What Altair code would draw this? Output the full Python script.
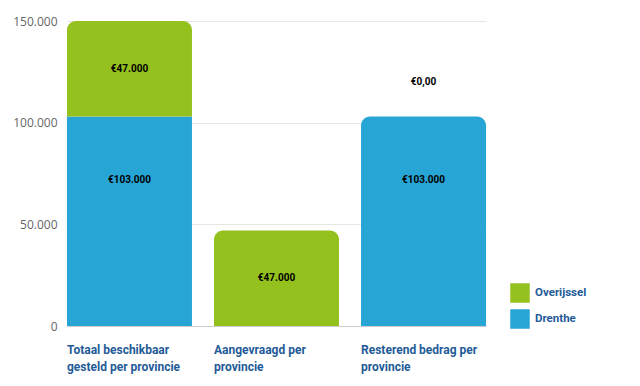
import altair as alt
import pandas as pd

categories = [
    "Totaal beschikbaar\ngesteld per provincie",
    "Aangevraagd per\nprovincie",
    "Resterend bedrag per\nprovincie",
]
series = ["Overijssel", "Drenthe"]
drenthe = [103000, 0, 103000]
overijssel = [47000, 47000, 0]
drenthe_labels = ["€103.000", "", "€103.000"]
overijssel_labels = ["€47.000", "€47.000", "€0,00"]
colors = ["#95c11f", "#27a6d6"]

rows = []
for i, c in enumerate(categories):
    rows.append({"cat": c, "series": "Drenthe", "order": 0, "value": drenthe[i],
                 "label": drenthe_labels[i], "top": overijssel[i] == 0})
    rows.append({"cat": c, "series": "Overijssel", "order": 1, "value": overijssel[i],
                 "label": overijssel_labels[i], "top": overijssel[i] != 0})
df = pd.DataFrame(rows)

x = alt.X("cat:N", sort=categories, title=None,
          scale=alt.Scale(paddingInner=0.15, paddingOuter=0),
          axis=alt.Axis(labelAngle=0, labelAlign="left", labelBaseline="top",
                        labelOffset=-62.5, labelPadding=18, labelLineHeight=17,
                        labelExpr="split(datum.label, '\\n')",
                        labelFont="Roboto", labelFontSize=12, labelFontWeight="bold",
                        labelColor="#1f5b98", ticks=False, grid=False,
                        domainColor="#cccccc", labelLimit=200))
yscale = alt.Scale(domain=[0, 150000], nice=False)
yaxis = alt.Axis(values=[0, 50000, 100000, 150000], title=None,
                 labelExpr="replace(format(datum.value, ','), ',', '.')",
                 labelFont="Open Sans", labelFontSize=12, labelColor="#666666",
                 labelPadding=10, ticks=False, domain=False, gridColor="#e6e6e6")
color = alt.Color("series:N", scale=alt.Scale(domain=series, range=colors),
                  legend=alt.Legend(title=None, orient="none", legendX=443, legendY=262,
                                    symbolType="square", symbolSize=380,
                                    symbolStrokeWidth=0, rowPadding=6,
                                    labelFont="Roboto", labelFontSize=11.5,
                                    labelFontWeight="bold", labelColor="#1f5b98",
                                    labelOffset=5))

base = alt.Chart(df).transform_stack(
    stack="value", groupby=["cat"], as_=["y0", "y1"],
    sort=[alt.SortField("order", "ascending")]
).transform_calculate(mid="(datum.y0 + datum.y1) / 2")

flat = base.transform_filter("!datum.top && datum.value > 0").mark_bar(cornerRadius=0).encode(
    x=x, y=alt.Y("y1:Q", scale=yscale, axis=yaxis), y2="y0:Q", color=color)
rounded = base.transform_filter("datum.top").mark_bar(
    cornerRadiusTopLeft=9, cornerRadiusTopRight=9).encode(
    x=x, y=alt.Y("y1:Q", scale=yscale, axis=yaxis), y2="y0:Q", color=color)

def label_layer(cond, dy):
    return base.transform_filter(cond).mark_text(
        font="Roboto", fontSize=10, fontWeight="bold", color="#000000", dy=dy).encode(
        x=alt.X("cat:N", sort=categories, bandPosition=0.5),
        y=alt.Y("mid:Q", scale=yscale), text="label:N")

green_text = label_layer("datum.series == 'Overijssel' && datum.value > 0", 0)
blue_text = label_layer("datum.series == 'Drenthe' && datum.value > 0", -41)
zero_text = label_layer("datum.value == 0 && datum.label != ''", -35)

chart = alt.layer(flat, rounded, green_text, blue_text, zero_text).properties(
    width=419, height=305,
    autosize=alt.AutoSizeParams(type="none"),
    padding={"left": 59, "top": 13, "right": 146, "bottom": 52},
).configure(background="white").configure_view(stroke=None, strokeWidth=0)

chart.save("out.html", embed_options={"renderer": "svg", "actions": False})
